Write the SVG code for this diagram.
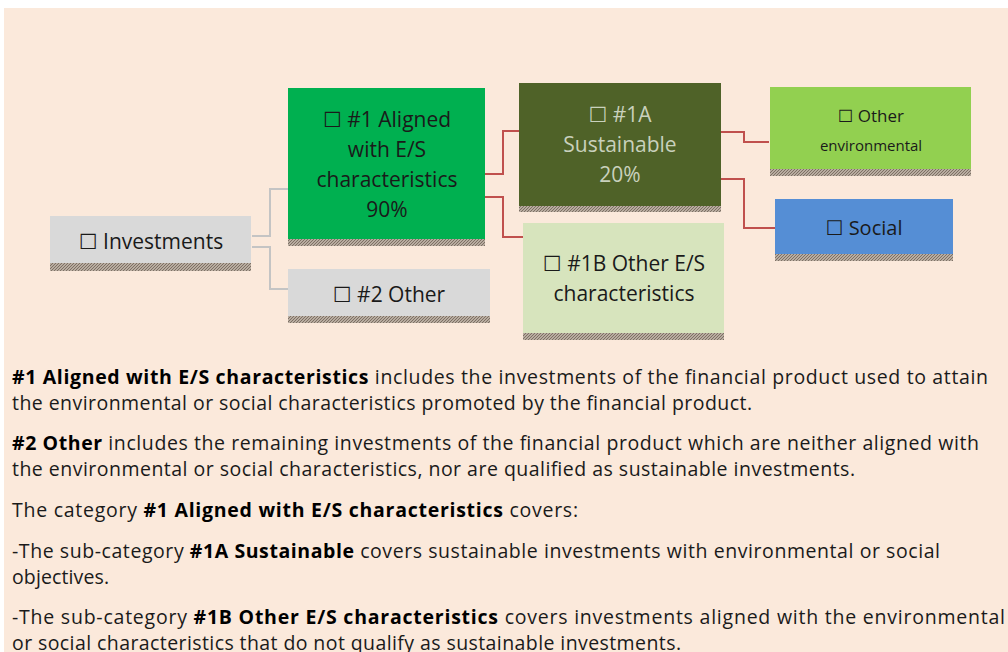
<svg xmlns="http://www.w3.org/2000/svg" width="1008" height="652" viewBox="0 0 1008 652">
<defs>
<pattern id="shd" width="3" height="3" patternUnits="userSpaceOnUse">
<rect width="3" height="3" fill="#b8aca0"/>
<rect width="1" height="1" fill="#7d7064"/>
<rect x="2" y="1" width="1" height="1" fill="#7d7064"/>
<rect x="1" y="2" width="1" height="1" fill="#7d7064"/>
</pattern>
<style>
.n{font-family:"Open Sans","Noto Sans","DejaVu Sans",sans-serif;font-size:21px;text-anchor:middle;fill:#1a1a1a}
.b{font-family:"Open Sans","Noto Sans","DejaVu Sans",sans-serif;font-size:19.5px;fill:#1a1a1a}
.b tspan.k{font-weight:bold;fill:#000}
.g{fill:none;stroke:#c4c4c4;stroke-width:2}
.r{fill:none;stroke:#c0504d;stroke-width:2}
</style>
</defs>
<rect width="1008" height="652" fill="#ffffff"/>
<rect x="4" y="8" width="1004" height="644" fill="#fbe9db"/>
<g id="connectors">
<path class="g" d="M252 236H270V189H288"/>
<path class="g" d="M252 247H270V289H288"/>
<path class="r" d="M485 174H503V131H519"/>
<path class="r" d="M483 197H503V237H523"/>
<path class="r" d="M721 132H744V142H769"/>
<path class="r" d="M721 179H744V228H775"/>
</g>
<g id="investments">
<rect x="50" y="216" width="201" height="47" fill="#d9d9d9"/>
<rect x="50" y="263" width="201" height="8" fill="url(#shd)"/>
<text class="n" x="151" y="249">☐ Investments</text>
</g>
<g id="aligned">
<rect x="288" y="88" width="197" height="151" fill="#00b050"/>
<rect x="288" y="239" width="197" height="7" fill="url(#shd)"/>
<text class="n" x="387" y="127">☐ #1 Aligned</text>
<text class="n" x="387" y="157">with E/S</text>
<text class="n" x="387" y="187">characteristics</text>
<text class="n" x="387" y="217">90%</text>
</g>
<g id="other2">
<rect x="288" y="269" width="202" height="47" fill="#d9d9d9"/>
<rect x="288" y="316" width="202" height="7" fill="url(#shd)"/>
<text class="n" x="389" y="302">☐ #2 Other</text>
</g>
<g id="sustainable">
<rect x="519" y="83" width="202" height="123" fill="#4f6228"/>
<rect x="519" y="206" width="202" height="6" fill="url(#shd)"/>
<text class="n" x="620" y="122" style="fill:#c9d1bd">☐ #1A</text>
<text class="n" x="620" y="152" style="fill:#c9d1bd">Sustainable</text>
<text class="n" x="620" y="182" style="fill:#c9d1bd">20%</text>
</g>
<g id="otheres">
<rect x="523" y="223" width="201" height="110" fill="#d7e4bd"/>
<rect x="523" y="333" width="201" height="7" fill="url(#shd)"/>
<text class="n" x="624" y="271">☐ #1B Other E/S</text>
<text class="n" x="624" y="301">characteristics</text>
</g>
<g id="environmental">
<rect x="770" y="87" width="201" height="82" fill="#92d050"/>
<rect x="770" y="169" width="201" height="7" fill="url(#shd)"/>
<text class="n" x="871" y="122" style="font-size:17px">☐ Other</text>
<text class="n" x="871" y="151" style="font-size:15px">environmental</text>
</g>
<g id="social">
<rect x="775" y="199" width="178" height="55" fill="#558ed5"/>
<rect x="775" y="254" width="178" height="7" fill="url(#shd)"/>
<text class="n" x="864" y="235" style="font-size:20px">☐ Social</text>
</g>
<g id="legend">
<text class="b" x="12" y="384" textLength="976" lengthAdjust="spacing"><tspan class="k">#1 Aligned with E/S characteristics</tspan> includes the investments of the financial product used to attain</text>
<text class="b" x="12" y="410" textLength="740" lengthAdjust="spacing">the environmental or social characteristics promoted by the financial product.</text>
<text class="b" x="12" y="450" textLength="967" lengthAdjust="spacing"><tspan class="k">#2 Other</tspan> includes the remaining investments of the financial product which are neither aligned with</text>
<text class="b" x="12" y="476" textLength="843" lengthAdjust="spacing">the environmental or social characteristics, nor are qualified as sustainable investments.</text>
<text class="b" x="12" y="517" textLength="566" lengthAdjust="spacing">The category <tspan class="k">#1 Aligned with E/S characteristics</tspan> covers:</text>
<text class="b" x="12" y="558" textLength="928" lengthAdjust="spacing">-The sub-category <tspan class="k">#1A Sustainable</tspan> covers sustainable investments with environmental or social</text>
<text class="b" x="12" y="584" textLength="97" lengthAdjust="spacing">objectives.</text>
<text class="b" x="12" y="624" textLength="993" lengthAdjust="spacing">-The sub-category <tspan class="k">#1B Other E/S characteristics</tspan> covers investments aligned with the environmental</text>
<text class="b" x="12" y="650" textLength="669" lengthAdjust="spacing">or social characteristics that do not qualify as sustainable investments.</text>
</g>
</svg>
